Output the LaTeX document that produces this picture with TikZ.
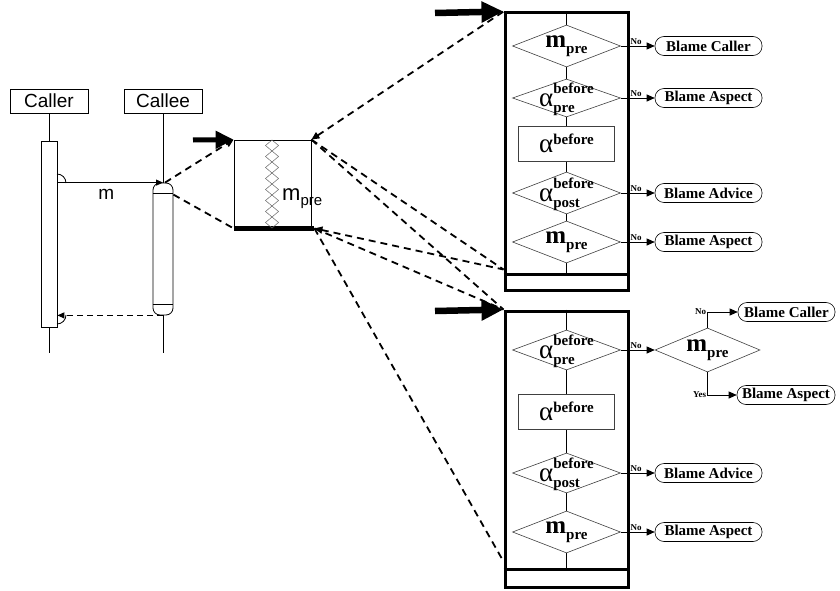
\documentclass[tikz,border=0pt]{standalone}
\usepackage{fontspec}
\setmainfont{Liberation Serif}
\setsansfont{Liberation Sans}
\usetikzlibrary{arrows.meta,shapes.geometric}

\newcommand{\seqfont}{\sffamily\fontsize{19}{19}\selectfont}
\newcommand{\blamefont}{\bfseries\fontsize{15}{15}\selectfont}
\newcommand{\nofont}{\bfseries\fontsize{9}{9}\selectfont}
\newcommand{\symfont}{\fontsize{27}{27}\selectfont}
\newcommand{\supfont}{\bfseries\fontsize{15}{15}\selectfont}
\newcommand{\mprebold}{{\bfseries\fontsize{25}{25}\selectfont m\raisebox{-6pt}{\supfont pre}}}
\newcommand{\mpresans}{{\sffamily\fontsize{22}{22}\selectfont m\raisebox{-5pt}{\fontsize{15}{15}\selectfont pre}}}
\newcommand{\alphaof}[2]{{\symfont α\raisebox{2pt}{\begin{tabular}[c]{@{}l@{}}\supfont #1\\[-8pt]\supfont #2\end{tabular}}}}
\newcommand{\alphaup}[1]{{\symfont α\raisebox{8pt}{\supfont #1}}}

\begin{document}
\begin{tikzpicture}[x=1pt, y=-1pt,
    lifebox/.style={draw, line width=0.8pt, font=\seqfont, minimum width=78pt, minimum height=24pt, inner sep=0pt},
    actbar/.style={draw, line width=0.8pt, minimum width=16pt, inner sep=0pt},
    msg/.style={line width=0.8pt, -{Triangle[length=7pt,width=6pt]}},
    reply/.style={line width=1.2pt, dash pattern=on 6pt off 4pt, -{Triangle[length=7pt,width=6pt]}},
    link/.style={line width=1.8pt, dash pattern=on 7pt off 5pt},
    linktip/.style={link, arrows={Triangle[length=8pt,width=7pt]-}},
    bigin/.style={line width=6.5pt, -{Triangle[length=22pt,width=20pt]}},
    smallin/.style={line width=5pt, -{Triangle[length=18pt,width=17pt]}},
    panel/.style={draw, line width=3pt, minimum width=123pt, inner sep=0pt},
    test/.style={diamond, draw=black!75, line width=0.6pt, fill=white, minimum width=108pt, minimum height=40pt, inner sep=0pt},
    advice/.style={rectangle, draw=black!75, line width=0.6pt, fill=white, minimum width=96pt, minimum height=35pt, inner sep=0pt},
    blame/.style={draw, line width=0.6pt, rounded corners=9pt, minimum width=107pt, minimum height=19pt, font=\blamefont, inner sep=0pt},
    flow/.style={line width=0.8pt, -{Triangle[length=8pt,width=7pt]}},
    answer/.style={font=\nofont, inner sep=1pt}]
    \useasboundingbox (0,0) rectangle (840,591);

    % ========== Sequence diagram ==========
    \node[lifebox] (caller) at (49,101) {Caller};
    \node[lifebox] (callee) at (163,101) {Callee};
    \node[actbar, minimum height=186pt] (cbar) at (49,234) {};
    \node[actbar, minimum width=20pt, minimum height=132pt, rounded corners=7pt] (ebar) at (163,249) {};
    \coordinate (callerend) at (49,353);
    \coordinate (calleeend) at (163,353);

    % lifelines
    \draw[line width=0.8pt] (caller.south) -- (cbar.north);
    \draw[line width=0.8pt] (cbar.south) -- (callerend);
    \draw[line width=0.8pt] (callee.south) -- (ebar.north);
    \draw[line width=0.8pt] (ebar.south) -- (calleeend);

    % caps of the callee bar
    \draw[line width=0.8pt] ([yshift=-11pt]ebar.north west) -- ([yshift=-11pt]ebar.north east);
    \draw[line width=0.8pt] ([yshift=11pt]ebar.south west) -- ([yshift=11pt]ebar.south east);

    % call and return
    \draw[msg] (cbar.east |- ebar.north) -- (ebar.north) node[midway, below=3pt, xshift=-4pt, font=\seqfont] {m};
    \draw[reply] (ebar.south) -- (cbar.east |- ebar.south);
    \draw[line width=0.8pt] (57,174) arc[start angle=90, end angle=0, radius=9pt];
    \draw[line width=0.8pt] (66,315) arc[start angle=0, end angle=-90, radius=9pt];

    % ========== Precondition box ==========
    \node[draw, line width=0.8pt, minimum width=77pt, minimum height=88pt, inner sep=0pt] (pre) at (272.5,184) {};
    \draw[line width=5pt] (pre.south west) -- ([xshift=3pt]pre.south east);
    \foreach \k in {0,...,7}
        \draw[black!60, line width=0.5pt] (272,140+11*\k) -- ++(6.5,5.5) -- ++(-6.5,5.5) -- ++(-6.5,-5.5) -- cycle;
    \node[anchor=west, inner sep=0pt] (prelab) at (282,199) {\mpresans};
    \coordinate (feedpre) at (193,140);
    \draw[smallin] (feedpre) -- (pre.north west);

    % dashed zoom lines from the callee
    \draw[link, -{Triangle[length=8pt,width=7pt]}] ([xshift=2pt]ebar.north) -- (pre.north west);
    \draw[link] ([yshift=-12pt]ebar.north east) -- (pre.south west);

    % ========== Upper panel ==========
    \node[panel, minimum height=277pt] (top) at (566.5,151.5) {};
    \draw[line width=3pt] ([yshift=17pt]top.south west) -- ([yshift=17pt]top.south east);
    \draw[line width=0.8pt] (top.north) -- ([yshift=17pt]top.south);
    \coordinate (feedtop) at (435,13);
    \draw[bigin] (feedtop) -- (top.north west);

    \node[test, minimum height=42pt, label=center:\mprebold] (t1) at (566.5,46) {};
    \node[test, minimum height=38pt, label=center:{\alphaof{before}{pre}}] (t2) at (566.5,98) {};
    \node[advice, label=center:{\alphaup{before}}] (a1) at (566.5,143.5) {};
    \node[test, minimum height=42pt, label=center:{\alphaof{before}{post}}] (t3) at (566.5,193) {};
    \node[test, minimum height=42pt, label=center:\mprebold] (t4) at (566.5,242) {};

    \node[blame] (b1) at (708.5,46) {Blame Caller};
    \node[blame] (b2) at (708.5,98) {Blame Aspect};
    \node[blame] (b3) at (708.5,193) {Blame Advice};
    \node[blame] (b4) at (708.5,242) {Blame Aspect};

    \draw[flow] (t1.east) -- node[answer, pos=0.45, above] {No} (b1.west);
    \draw[flow] (t2.east) -- node[answer, pos=0.45, above] {No} (b2.west);
    \draw[flow] (t3.east) -- node[answer, pos=0.45, above] {No} (b3.west);
    \draw[flow] (t4.east) -- node[answer, pos=0.45, above] {No} (b4.west);

    % ========== Lower panel ==========
    \node[panel, minimum height=276pt] (bot) at (566.5,449) {};
    \draw[line width=3pt] ([yshift=19pt]bot.south west) -- ([yshift=19pt]bot.south east);
    \draw[line width=0.8pt] (bot.north) -- ([yshift=19pt]bot.south);
    \coordinate (feedbot) at (435,311);
    \draw[bigin] (feedbot) -- (bot.north west);

    \node[test, label=center:{\alphaof{before}{pre}}] (t5) at (566.5,350) {};
    \node[advice, label=center:{\alphaup{before}}] (a2) at (566.5,411.5) {};
    \node[test, label=center:{\alphaof{before}{post}}] (t6) at (566.5,473) {};
    \node[test, minimum height=42pt, label=center:\mprebold] (t7) at (566.5,532) {};
    \node[test, minimum width=105pt, minimum height=44pt, label=center:\mprebold] (q) at (707.5,350) {};

    \node[blame, minimum width=97pt] (b5) at (786.5,312) {Blame Caller};
    \node[blame, minimum width=98pt] (b6) at (786,395) {Blame Aspect};
    \node[blame] (b7) at (708.5,473) {Blame Advice};
    \node[blame] (b8) at (708.5,532) {Blame Aspect};

    \draw[flow] (t5.east) -- node[answer, pos=0.45, above] {No} (q.west);
    \draw[flow] (q.north) |- node[answer, pos=0.5, left] {No} (b5.west);
    \draw[flow] (q.south) |- node[answer, pos=0.5, left] {Yes} (b6.west);
    \draw[flow] (t6.east) -- node[answer, pos=0.45, above] {No} (b7.west);
    \draw[flow] (t7.east) -- node[answer, pos=0.45, above] {No} (b8.west);

    % ========== Dashed zoom lines to the panels ==========
    \draw[linktip] (pre.north east) -- (top.north west);
    \draw[link] (pre.north east) -- ([yshift=22pt]top.south west);
    \draw[link] (pre.north east) -- (bot.north west);
    \draw[linktip] ([xshift=3pt]pre.south east) -- ([yshift=22pt]top.south west);
    \draw[link] ([xshift=3pt]pre.south east) -- (bot.north west);
    \draw[link] ([xshift=3pt]pre.south east) -- ([yshift=27pt]bot.south west);
\end{tikzpicture}
\end{document}
